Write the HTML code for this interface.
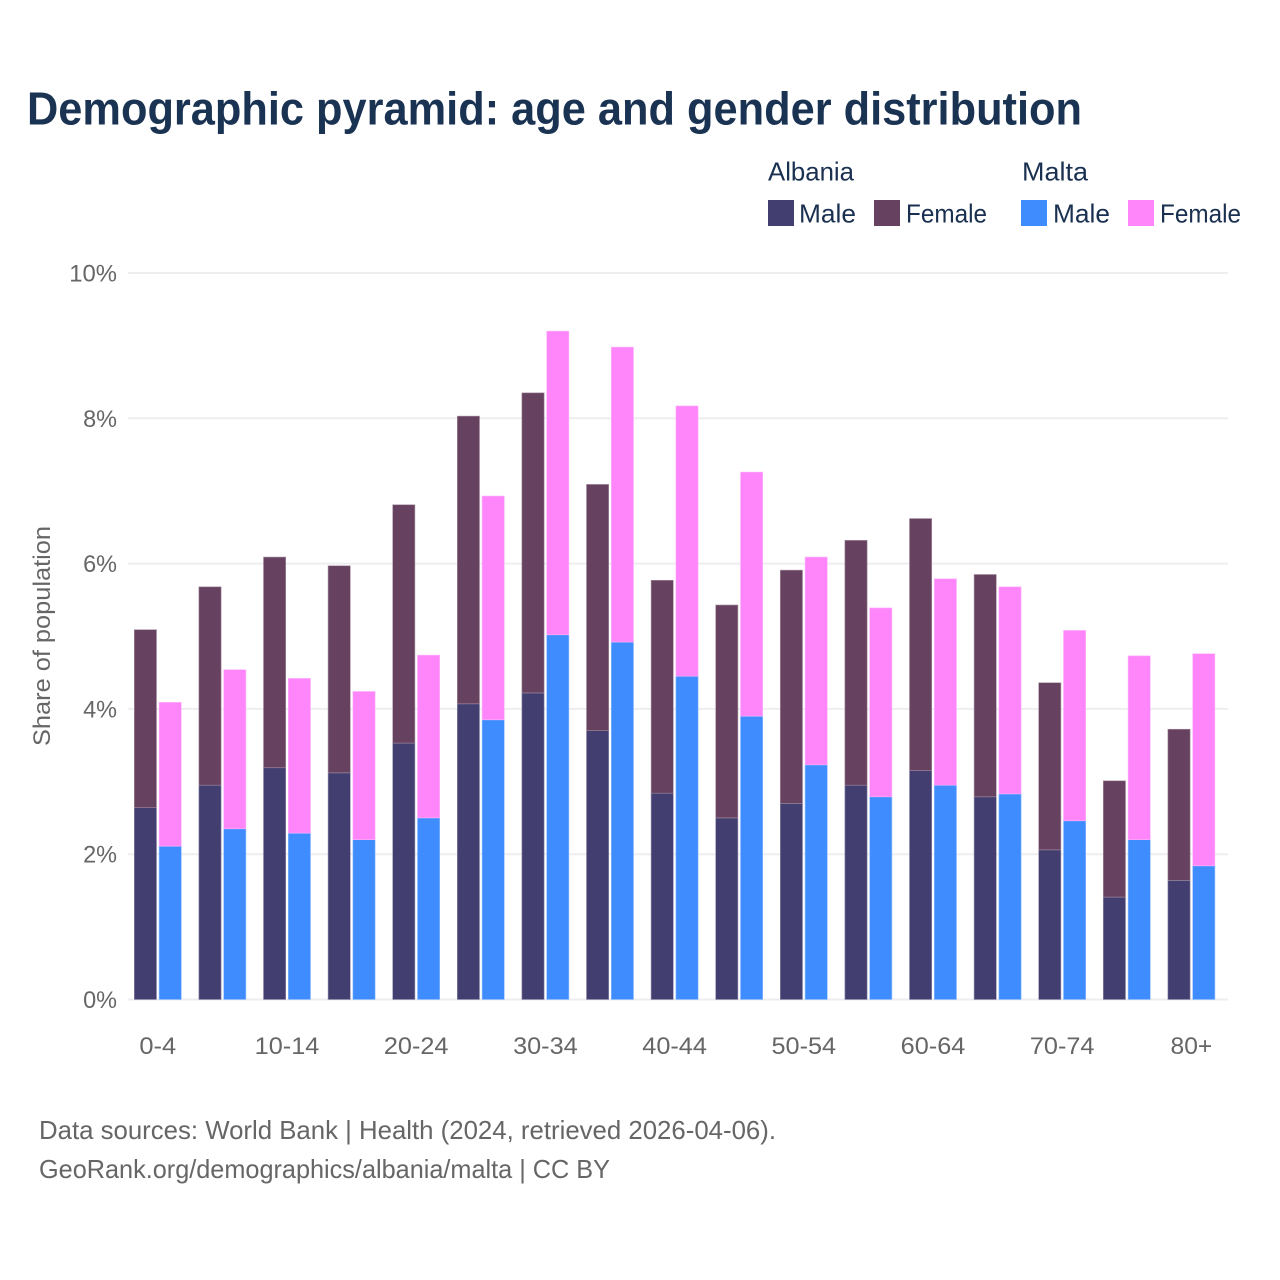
<!DOCTYPE html>
<html lang="en">
<head>
<meta charset="utf-8">
<title>Demographic pyramid: age and gender distribution</title>
<style>
html,body{margin:0;padding:0;background:#fff;}
svg{display:block;font-family:"Liberation Sans",sans-serif;}
.title{font-size:46px;font-weight:bold;fill:#1a3353;}
.legend{font-size:26px;fill:#1a3050;}
.tick{font-size:24px;fill:#666666;}
.foot{font-size:26px;fill:#666666;}
</style>
</head>
<body>
<svg id="chart" width="1280" height="1280" viewBox="0 0 1280 1280" xmlns="http://www.w3.org/2000/svg">
  <rect x="0" y="0" width="1280" height="1280" fill="#ffffff"/>
  <text class="title" x="27" y="124.5" textLength="1055" lengthAdjust="spacingAndGlyphs">Demographic pyramid: age and gender distribution</text>

  <g>
    <text class="legend" x="768" y="180.5" textLength="86" lengthAdjust="spacingAndGlyphs">Albania</text>
    <text class="legend" x="1022" y="180.5" textLength="66" lengthAdjust="spacingAndGlyphs">Malta</text>
    <rect x="768" y="200" width="26" height="26" fill="#433e70"/>
    <text class="legend" x="799" y="222.5" textLength="57" lengthAdjust="spacingAndGlyphs">Male</text>
    <rect x="874" y="200" width="26" height="26" fill="#664160"/>
    <text class="legend" x="906" y="222.5" textLength="81" lengthAdjust="spacingAndGlyphs">Female</text>
    <rect x="1021" y="200" width="26" height="26" fill="#3f8cff"/>
    <text class="legend" x="1053" y="222.5" textLength="57" lengthAdjust="spacingAndGlyphs">Male</text>
    <rect x="1128" y="200" width="26" height="26" fill="#ff85fa"/>
    <text class="legend" x="1160" y="222.5" textLength="81" lengthAdjust="spacingAndGlyphs">Female</text>
  </g>

  <g id="grid"></g>
  <g id="ylabels"></g>
  <g id="bars"></g>
  <g id="xlabels"></g>

  <text class="tick" transform="translate(50,636) rotate(-90)" text-anchor="middle" textLength="220" lengthAdjust="spacingAndGlyphs">Share of population</text>

  <text class="foot" x="39" y="1139" textLength="737" lengthAdjust="spacingAndGlyphs">Data sources: World Bank | Health (2024, retrieved 2026-04-06).</text>
  <text class="foot" x="39" y="1178" textLength="571" lengthAdjust="spacingAndGlyphs">GeoRank.org/demographics/albania/malta | CC BY</text>
</svg>
<script>
const categories = ["0-4","5-9","10-14","15-19","20-24","25-29","30-34","35-39","40-44","45-49","50-54","55-59","60-64","65-69","70-74","75-79","80+"];
const visibleCategoryLabels = ["0-4","10-14","20-24","30-34","40-44","50-54","60-64","70-74","80+"];
const albaniaMale = [2.64,2.95,3.19,3.12,3.53,4.07,4.22,3.70,2.84,2.50,2.70,2.95,3.15,2.79,2.06,1.41,1.64];
const albaniaFemale = [2.45,2.73,2.90,2.85,3.28,3.96,4.13,3.39,2.93,2.93,3.21,3.37,3.47,3.06,2.30,1.60,2.08];
const maltaMale = [2.11,2.35,2.29,2.20,2.50,3.85,5.02,4.92,4.45,3.90,3.23,2.79,2.95,2.83,2.46,2.20,1.84];
const maltaFemale = [1.98,2.19,2.13,2.04,2.24,3.08,4.18,4.06,3.72,3.36,2.86,2.60,2.84,2.85,2.62,2.53,2.92];
const yTicks = [0,2,4,6,8,10];

const NS = "http://www.w3.org/2000/svg";
const plotLeft = 125.5, plotStep = 64.6, barWidth = 22.2, barGap = 1.3;
const yZero = 999.5, yPerUnit = 72.65;

function yScale(v){ return yZero - v * yPerUnit; }
function groupCenter(i){ return plotLeft + plotStep * (i + 0.5); }

function labelWidth(s){
  let w = 0;
  for (const c of s){
    if (c === "-") w += 9;
    else if (c === "%") w += 20;
    else w += 13.9;
  }
  return w;
}

function makeText(parent, x, y, str, anchor){
  const t = document.createElementNS(NS, "text");
  t.setAttribute("class", "tick");
  t.setAttribute("x", x);
  t.setAttribute("y", y);
  t.setAttribute("text-anchor", anchor);
  t.setAttribute("textLength", labelWidth(str));
  t.setAttribute("lengthAdjust", "spacingAndGlyphs");
  t.textContent = str;
  parent.appendChild(t);
  return t;
}

function makeBar(parent, x, v0, v1, fill, edge){
  const r = document.createElementNS(NS, "rect");
  r.setAttribute("x", x);
  r.setAttribute("y", yScale(v1));
  r.setAttribute("width", barWidth);
  r.setAttribute("height", yScale(v0) - yScale(v1));
  r.setAttribute("fill", fill);
  r.setAttribute("stroke", edge);
  r.setAttribute("stroke-width", "0.6");
  parent.appendChild(r);
  return r;
}

const grid = document.getElementById("grid");
const ylabels = document.getElementById("ylabels");
yTicks.forEach(function(v){
  const l = document.createElementNS(NS, "line");
  l.setAttribute("x1", 128);
  l.setAttribute("x2", 1228);
  l.setAttribute("y1", yScale(v));
  l.setAttribute("y2", yScale(v));
  l.setAttribute("stroke", "#eeeef1");
  l.setAttribute("stroke-width", "2");
  
  
  grid.appendChild(l);
  const t = makeText(ylabels, 117, yScale(v) + 8.5, v + "%", "end");
  
  
});

const bars = document.getElementById("bars");
categories.forEach(function(cat, i){
  const c = groupCenter(i);
  const xA = c - barGap - barWidth;
  const xM = c + barGap;
  const aMale = makeBar(bars, xA, 0, albaniaMale[i], "#433e70", "#8f8cab");
  
  
  const aFemale = makeBar(bars, xA, albaniaMale[i], albaniaMale[i] + albaniaFemale[i], "#664160", "#a58fa0");
  
  
  const mMale = makeBar(bars, xM, 0, maltaMale[i], "#3f8cff", "#8fbcff");
  
  
  const mFemale = makeBar(bars, xM, maltaMale[i], maltaMale[i] + maltaFemale[i], "#ff85fa", "#ffb5fc");
  
  
});

const xlabels = document.getElementById("xlabels");
categories.forEach(function(cat, i){
  if (visibleCategoryLabels.indexOf(cat) === -1) return;
  const t = makeText(xlabels, groupCenter(i), 1054, cat, "middle");
  
  
});
</script>
</body>
</html>
